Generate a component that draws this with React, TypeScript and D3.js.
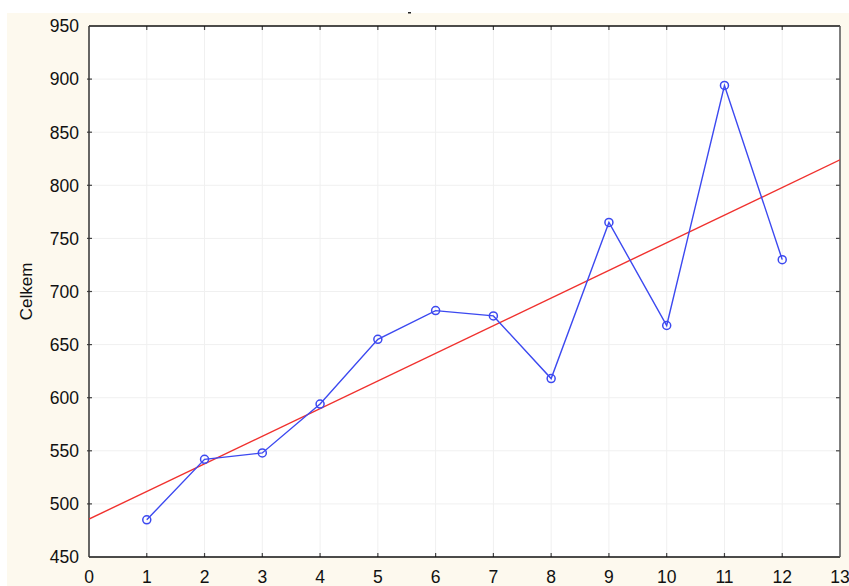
import { useEffect, useRef } from 'react';
import * as d3 from 'd3';

const months = [1, 2, 3, 4, 5, 6, 7, 8, 9, 10, 11, 12];
const celkem = [485, 542, 548, 594, 655, 682, 677, 618, 765, 668, 894, 730];
const xTicks = [0, 1, 2, 3, 4, 5, 6, 7, 8, 9, 10, 11, 12, 13];
const yTicks = [450, 500, 550, 600, 650, 700, 750, 800, 850, 900, 950];

export default function App() {
  const svgRef = useRef<SVGSVGElement>(null);

  useEffect(() => {
    if (!svgRef.current) return;
    const width = 849;
    const height = 586;
    const m = { left: 89, right: 840, top: 26, bottom: 557 };

    d3.select(svgRef.current).selectAll('*').remove();
    const svg = d3.select(svgRef.current)
      .attr('width', width)
      .attr('height', height);

    const x = d3.scaleLinear().domain([0, 13]).range([m.left, m.right]);
    const y = d3.scaleLinear().domain([450, 950]).range([m.bottom, m.top]);

    // cream frame background
    svg.append('rect')
      .attr('x', 7).attr('y', 13)
      .attr('width', width - 7).attr('height', height - 13)
      .attr('fill', '#fdf9ee');

    // tiny title placeholder
    svg.append('rect')
      .attr('x', 408).attr('y', 12)
      .attr('width', 3).attr('height', 1.5)
      .attr('fill', '#222');

    svg.append('rect')
      .attr('x', m.left).attr('y', m.top)
      .attr('width', m.right - m.left).attr('height', m.bottom - m.top)
      .attr('fill', '#fff');

    // grid
    const grid = svg.append('g').attr('stroke', '#f0f0f0').attr('stroke-width', 1);
    grid.selectAll('line.v')
      .data(xTicks.slice(1, -1))
      .join('line')
      .attr('class', 'v')
      .attr('x1', d => x(d)).attr('x2', d => x(d))
      .attr('y1', m.top).attr('y2', m.bottom);
    grid.selectAll('line.h')
      .data(yTicks.slice(1, -1))
      .join('line')
      .attr('class', 'h')
      .attr('x1', m.left).attr('x2', m.right)
      .attr('y1', d => y(d)).attr('y2', d => y(d));

    // ticks (inward on all four sides)
    const ticks = svg.append('g').attr('stroke', '#444').attr('stroke-width', 1.2);
    xTicks.slice(1, -1).forEach(t => {
      ticks.append('line').attr('x1', x(t)).attr('x2', x(t)).attr('y1', m.bottom).attr('y2', m.bottom - 4);
      ticks.append('line').attr('x1', x(t)).attr('x2', x(t)).attr('y1', m.top).attr('y2', m.top + 4);
    });
    yTicks.slice(1, -1).forEach(t => {
      ticks.append('line').attr('x1', m.left - 2).attr('x2', m.left + 3).attr('y1', y(t)).attr('y2', y(t));
      ticks.append('line').attr('x1', m.right).attr('x2', m.right - 4).attr('y1', y(t)).attr('y2', y(t));
    });

    // frame
    svg.append('line').attr('x1', m.left).attr('x2', m.right).attr('y1', m.top).attr('y2', m.top)
      .attr('stroke', '#111').attr('stroke-width', 1.5);
    svg.append('line').attr('x1', m.left).attr('x2', m.right).attr('y1', m.bottom).attr('y2', m.bottom)
      .attr('stroke', '#111').attr('stroke-width', 1.5);
    svg.append('line').attr('x1', m.left).attr('x2', m.left).attr('y1', m.top).attr('y2', m.bottom)
      .attr('stroke', '#333').attr('stroke-width', 1.5);
    svg.append('line').attr('x1', m.right).attr('x2', m.right).attr('y1', m.top).attr('y2', m.bottom)
      .attr('stroke', '#555').attr('stroke-width', 1.5);

    const font = 'Liberation Sans, Arial, sans-serif';

    // tick labels
    svg.append('g')
      .selectAll('text')
      .data(yTicks)
      .join('text')
      .attr('x', m.left - 10)
      .attr('y', d => y(d))
      .attr('dy', '0.36em')
      .attr('text-anchor', 'end')
      .style('font-family', font)
      .style('font-size', '17.5px')
      .style('fill', '#111')
      .text(d => d);

    svg.append('g')
      .selectAll('text')
      .data(xTicks)
      .join('text')
      .attr('x', d => x(d))
      .attr('y', 583)
      .attr('text-anchor', 'middle')
      .style('font-family', font)
      .style('font-size', '17.5px')
      .style('fill', '#111')
      .text(d => d);

    // axis title
    svg.append('text')
      .attr('transform', `translate(32,${(m.top + m.bottom) / 2}) rotate(-90)`)
      .attr('text-anchor', 'middle')
      .style('font-family', font)
      .style('font-size', '17px')
      .style('fill', '#111')
      .text('Celkem');

    const plot = svg.append('g');
    svg.append('clipPath').attr('id', 'clip')
      .append('rect')
      .attr('x', m.left).attr('y', m.top)
      .attr('width', m.right - m.left).attr('height', m.bottom - m.top);

    // linear regression fit
    const mx = d3.mean(months)!;
    const my = d3.mean(celkem)!;
    const sxy = d3.sum(months, (d, i) => (d - mx) * (celkem[i] - my));
    const sxx = d3.sum(months, d => (d - mx) * (d - mx));
    const slope = sxy / sxx;
    const intercept = my - slope * mx;

    plot.append('line')
      .attr('clip-path', 'url(#clip)')
      .attr('x1', x(0)).attr('y1', y(intercept))
      .attr('x2', x(13)).attr('y2', y(intercept + slope * 13))
      .attr('stroke', '#f0312e').attr('stroke-width', 1.4);

    const pts = months.map((d, i) => [d, celkem[i]] as [number, number]);
    const line = d3.line<[number, number]>().x(d => x(d[0])).y(d => y(d[1]));
    plot.append('path')
      .attr('d', line(pts))
      .attr('fill', 'none')
      .attr('stroke', '#3c49f0')
      .attr('stroke-width', 1.4);

    plot.selectAll('circle')
      .data(pts)
      .join('circle')
      .attr('cx', d => x(d[0]))
      .attr('cy', d => y(d[1]))
      .attr('r', 4)
      .attr('fill', 'none')
      .attr('stroke', '#3c49f0')
      .attr('stroke-width', 1.5);
  }, []);

  return (
    <div style={{ position: 'absolute', left: 0, top: 0 }}>
      <svg ref={svgRef} style={{ display: 'block' }} />
    </div>
  );
}
